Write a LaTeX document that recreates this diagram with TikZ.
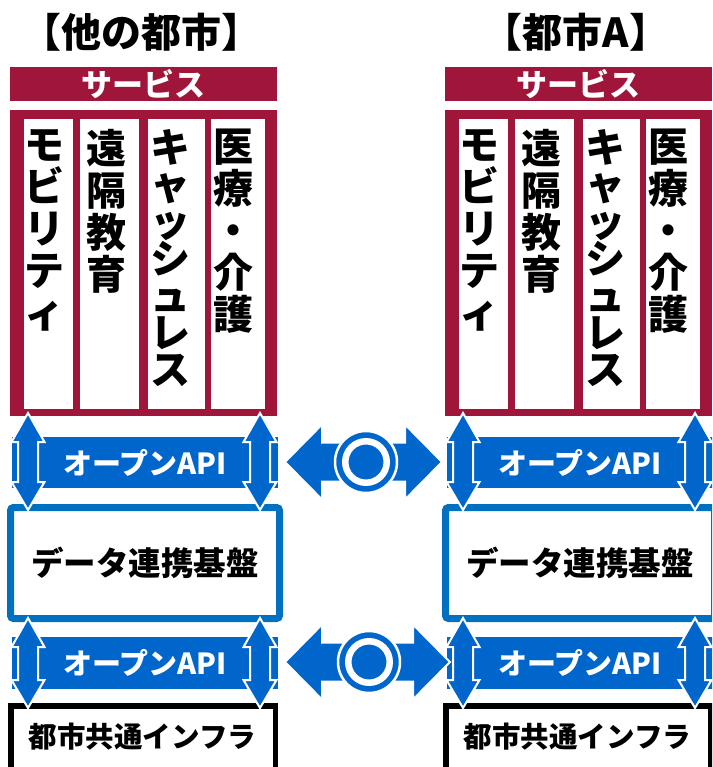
\documentclass[tikz,border=0pt]{standalone}
\usepackage{fontspec}
\newfontfamily\jp{Noto Sans CJK JP}
\usetikzlibrary{calc}

\definecolor{svcred}{RGB}{160,22,58}
\definecolor{apiblue}{RGB}{0,102,204}
\definecolor{datablue}{RGB}{0,112,192}

\tikzset{
  ttl/.style={inner sep=0, font=\jp\bfseries\fontsize{40}{40}\selectfont},
  svcbar/.style={fill=svcred, inner sep=0, minimum width=267, minimum height=34,
    text=white, font=\jp\bfseries\fontsize{31}{31}\selectfont},
  svcbody/.style={fill=svcred, inner sep=0, minimum width=267, minimum height=306},
  colbox/.style={fill=white, inner sep=0, minimum height=290},
  vtext/.style={anchor=north, align=center, inner sep=0,
    font=\jp\bfseries\fontsize{40}{42}\selectfont},
  apibox/.style={fill=apiblue, inner sep=0, minimum width=266, minimum height=51,
    text=white, font=\jp\bfseries\fontsize{29}{29}\selectfont},
  databox/.style={draw=datablue, line width=7, rounded corners=3, fill=white,
    inner sep=0, minimum width=269, minimum height=111,
    font=\jp\bfseries\fontsize{32.5}{32.5}\selectfont},
  infrabox/.style={draw=black, line width=5.5, fill=white, inner sep=0,
    minimum width=264.5, minimum height=94},
  infratxt/.style={inner sep=0, font=\jp\bfseries\fontsize{28.5}{28.5}\selectfont},
  blk/.style={fill=apiblue, draw=white, line width=2, line join=miter},
  okring/.style={circle, fill=apiblue, draw=white, line width=2.5, inner sep=0,
    minimum size=62},
  okin/.style={circle, draw=white, line width=6.5, inner sep=0, minimum size=41.5}
}

% vertical block arrow between two named tips
\newcommand{\vblk}[2]{%
  \fill[blk] (#1) -- ([shift={(16.5,29)}]#1) -- ([shift={(10,29)}]#1)
    -- ([shift={(10,-28)}]#2) -- ([shift={(16.5,-28)}]#2) -- (#2)
    -- ([shift={(-16.5,-28)}]#2) -- ([shift={(-10,-28)}]#2)
    -- ([shift={(-10,29)}]#1) -- ([shift={(-16.5,29)}]#1) -- cycle;}

% horizontal block arrow between two named tips
\newcommand{\hblk}[2]{%
  \fill[blk] (#1) -- ([shift={(37,-37.5)}]#1) -- ([shift={(37,-19.5)}]#1)
    -- ([shift={(-37,-19.5)}]#2) -- ([shift={(-37,-37.5)}]#2) -- (#2)
    -- ([shift={(-37,37.5)}]#2) -- ([shift={(-37,19.5)}]#2)
    -- ([shift={(37,19.5)}]#1) -- ([shift={(37,37.5)}]#1) -- cycle;}

\begin{document}
\begin{tikzpicture}[x=1pt, y=-1pt]
  \useasboundingbox (0,0) rectangle (712,767);
  \clip (0,0) rectangle (712,767);

  % the two cities, same layout
  \foreach \nm/\ox/\ttltext in {L/0/{【他の都市】}, R/435/{【都市A】}} {
    \begin{scope}[xshift=\ox]
      \node[ttl] (ttl\nm) at (141,32) {\ttltext};

      % services
      \node[svcbar] (bar\nm) at (143.5,84) {サービス};
      \node[svcbody] (svc\nm) at (143.5,263) {};
      \node[colbox, minimum width=49] (c1\nm) at (48.5,264) {};
      \node[colbox, minimum width=59] (c2\nm) at (109.5,264) {};
      \node[colbox, minimum width=57] (c3\nm) at (176.5,264) {};
      \node[colbox, minimum width=54] (c4\nm) at (238,264) {};
      \node[vtext] (t1\nm) at (44,129) {モ\\ビ\\リ\\テ\\ィ};
      \node[vtext] (t2\nm) at (106.5,129) {遠\\隔\\教\\育};
      \node[vtext, font=\jp\bfseries\fontsize{40}{37}\selectfont] (t3\nm) at (170,129)
        {キ\\ャ\\ッ\\シ\\ュ\\レ\\ス};
      \node[vtext] (t4\nm) at (233,129) {医\\療\\・\\介\\護};

      % open API and platforms
      \node[apibox] (api1\nm) at (145,462.5) {オープンAPI};
      \node[databox] (data\nm) at (145,563) {データ連携基盤};
      \node[apibox, minimum height=52] (api2\nm) at (145,663) {オープンAPI};
      \node[infrabox] (inf\nm) at (143,752.75) {};
      \node[infratxt] (inft\nm) at (142.5,737) {都市共通インフラ};

      % up/down arrows
      \foreach \ax in {28,260} {
        \coordinate (ut\nm\ax) at (\ax,413);
        \coordinate (ub\nm\ax) at (\ax,510);
        \coordinate (lt\nm\ax) at (\ax,618);
        \coordinate (lb\nm\ax) at (\ax,708);
        \vblk{ut\nm\ax}{ub\nm\ax}
        \vblk{lt\nm\ax}{lb\nm\ax}
      }
    \end{scope}
  }

  % arrows between the cities
  \coordinate (m1l) at (285,462);
  \coordinate (m1r) at (442,462);
  \hblk{m1l}{m1r}
  \node[okring] (ok1) at (366,462) {};
  \node[okin] (ok1i) at (ok1) {};

  \coordinate (m2l) at (285,662);
  \coordinate (m2r) at (450,662);
  \hblk{m2l}{m2r}
  \node[okring] (ok2) at (369,662) {};
  \node[okin] (ok2i) at (ok2) {};
\end{tikzpicture}
\end{document}
